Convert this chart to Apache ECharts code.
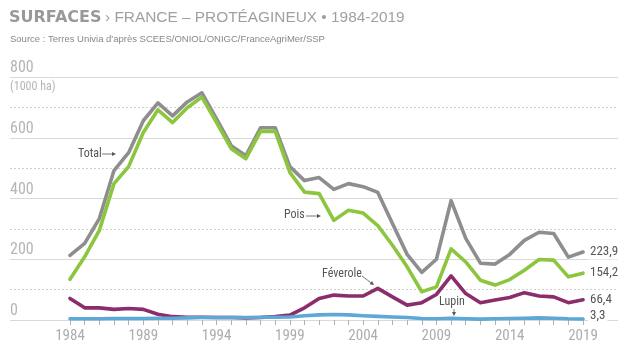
<!DOCTYPE html>
<html><head><meta charset="utf-8">
<script src="https://cdn.jsdelivr.net/npm/echarts@6/dist/echarts.min.js"></script>
<style>html,body{margin:0;padding:0;background:#fff}#c{width:618px;height:345px}</style>
</head><body><div id="c"></div>
<script>
var years = ['1984','1985','1986','1987','1988','1989','1990','1991','1992','1993','1994','1995','1996','1997','1998','1999','2000','2001','2002','2003','2004','2005','2006','2007','2008','2009','2010','2011','2012','2013','2014','2015','2016','2017','2018','2019'];
var total = [213,252,334,492,551,656,715,672,718,748,662,574,541,633,633,505,459,469,430,449,439,420,318,216,157,200,393,269,187,184,216,262,289,285,207,223.9];
var pois = [134,208,295,449,505,617,692,650,699,734,650,564,531,621,621,486,421,416,328,361,352,311,246,175,93,109,234,191,131,115,133,164,199,197,142,154.2];
var feverole = [71,40,40,35,38,35,19,11,9,9,8,8,7,8,11,16,40,71,82,79,79,104,76,49,57,84,145,87,57,66,74,90,79,76,57,66.4];
var lupin = [4,4,4,5,5,5,6,6,7,8,8,8,8,9,9,10,14,17,18,17,14,12,10,8,5,4,6,4,3,4,5,6,7,6,4,3.3];
var yMin = 0, yMax = 800, yStep = 200, yMinorStep = 100;

var NARROW = "'Liberation Sans Narrow','Roboto Condensed','Liberation Sans',sans-serif";
var SANS = "'Liberation Sans',Arial,sans-serif";

function arrow(x1, y1, x2, y2) {
  var dx = x2 - x1, dy = y2 - y1, L = Math.sqrt(dx*dx + dy*dy), ux = dx/L, uy = dy/L;
  var hl = 4, hw = 2;
  var bx = x2 - ux*hl, by = y2 - uy*hl;
  return [
    {type:'line', silent:true, shape:{x1:x1,y1:y1,x2:bx,y2:by}, style:{stroke:'#555', lineWidth:0.8}},
    {type:'polygon', silent:true, shape:{points:[[x2,y2],[bx - uy*hw, by + ux*hw],[bx + uy*hw, by - ux*hw]]}, style:{fill:'#555'}}
  ];
}
function label(text, x, y) {
  return {type:'text', x:x, y:y, silent:true, style:{text:text, fill:'#555', font:'12px ' + NARROW, verticalAlign:'middle'}};
}
var fmt = function (p) { return String(p.value).replace('.', ','); };
function mkSeries(name, data, color, offY) {
  return {
    name:name, type:'line', data:data, xAxisIndex:1, yAxisIndex:2,
    symbol:'none', smooth:false, silent:true,
    lineStyle:{color:color, width:3.6, cap:'round', join:'round'},
    endLabel:{show:true, formatter:fmt, color:'#555', fontFamily:NARROW, fontSize:13, distance:5,
      backgroundColor:'#fff', padding:[1,2,1,2], offset:[0, offY || 0]}
  };
}

var chart = echarts.init(document.getElementById('c'), null, {renderer:'canvas'});
var graphics = [
  {type:'text', x:9, y:10, silent:true, style:{text:'SURFACES', fill:'#999', font:"bold 16px 'DejaVu Sans',sans-serif"}},
  {type:'text', x:105, y:10.5, silent:true, style:{text:'› FRANCE – PROTÉAGINEUX • 1984-2019', fill:'#a0a0a0', font:'normal 15.4px ' + SANS}},
  {type:'text', x:10, y:34, silent:true, style:{text:"Source : Terres Univia d'après SCEES/ONIOL/ONIGC/FranceAgriMer/SSP", fill:'#888', font:'9.5px ' + SANS}},
  {type:'text', x:10, y:81, silent:true, style:{text:'(1000 ha)', fill:'#b5b5b5', font:'12px ' + NARROW}},
  label('Total', 78, 154)
].concat(arrow(102,154,116,154))
 .concat([label('Pois', 284, 215)]).concat(arrow(306,216,321,216))
 .concat([label('Féverole', 322, 274)]).concat(arrow(362,276,374,285))
 .concat([label('Lupin', 439, 302)]).concat(arrow(454,309,454,316));

chart.setOption({
  animation:false,
  grid:[
    {left:10, right:0, top:77, bottom:25},
    {left:70, right:35, top:77, bottom:25}
  ],
  xAxis:[
    {gridIndex:0, type:'value', min:0, max:1, show:false},
    {gridIndex:1, type:'category', data:years, boundaryGap:false,
      axisLine:{show:false},
      axisTick:{show:true, interval:0, length:5, lineStyle:{color:'#b0b0b0'}},
      axisLabel:{interval:4, color:'#adadad', fontFamily:NARROW, fontSize:15, margin:9},
      splitLine:{show:false}}
  ],
  yAxis:[
    {gridIndex:0, type:'value', min:yMin, max:yMax, interval:yStep,
      axisLine:{show:false}, axisTick:{show:false},
      axisLabel:{inside:true, margin:0, verticalAlign:'bottom', align:'left', color:'#b5b5b5', fontFamily:NARROW, fontSize:16, padding:[0,0,1,0]},
      splitLine:{show:true, lineStyle:{color:'#d9d9d9', width:1}}},
    {gridIndex:0, type:'value', min:yMin, max:yMax, interval:yMinorStep,
      axisLine:{show:false}, axisTick:{show:false}, axisLabel:{show:false},
      splitLine:{show:true, lineStyle:{color:['rgba(0,0,0,0)','#cfcfcf'], width:1, type:[2,2]}}},
    {gridIndex:1, type:'value', min:yMin, max:yMax, show:false, splitLine:{show:false}}
  ],
  series:[
    mkSeries('Total', total, '#8e8e8e', 0),
    mkSeries('Pois', pois, '#8cc63f', 0),
    mkSeries('Féverole', feverole, '#8b2c6c', 0),
    mkSeries('Lupin', lupin, '#5da8d6', -3)
  ],
  graphic:graphics
});
</script></body></html>
